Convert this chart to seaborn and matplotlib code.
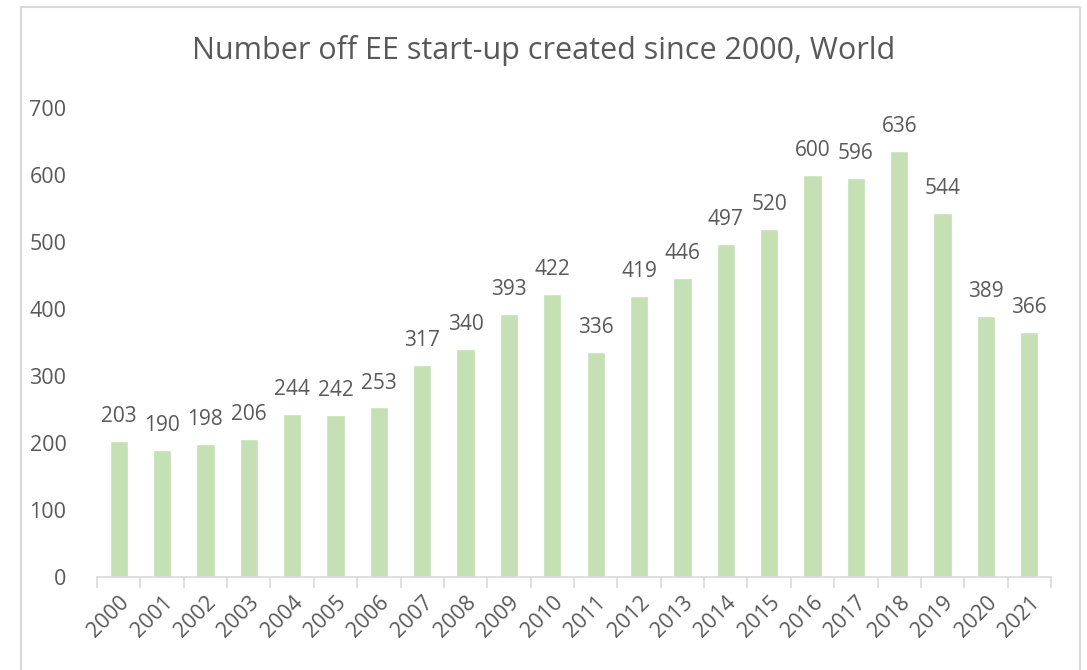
import matplotlib
matplotlib.use("Agg")
import matplotlib.pyplot as plt
import seaborn as sns
import numpy as np
import pandas as pd
from matplotlib.lines import Line2D

years = [str(y) for y in range(2000, 2022)]
values = [203, 190, 198, 206, 244, 242, 253, 317, 340, 393, 422, 336,
          419, 446, 497, 520, 600, 596, 636, 544, 389, 366]
title = "Number off EE start-up created since 2000, World"

sns.set_theme(style="white")
plt.rcParams['font.family'] = ['Open Sans', 'DejaVu Sans']
txt = "#595959"

fig = plt.figure(figsize=(10.87, 6.70), dpi=100)
ax = fig.add_axes([97/1087, 1-577/670, (1051-97)/1087, (577-108)/670])

df = pd.DataFrame({"year": years, "value": values})
sns.barplot(data=df, x="year", y="value", ax=ax, color="#C5E0B4",
            saturation=1, width=0.42)

ax.set_ylim(0, 700)
ax.set_xlim(-0.5, len(years) - 0.5)
ax.set_yticks(range(0, 701, 100))
ax.set_xlabel("")
ax.set_ylabel("")
for s in ["top", "right", "left"]:
    ax.spines[s].set_visible(False)
ax.spines["bottom"].set_color("#D9D9D9")
ax.spines["bottom"].set_linewidth(1.2)

ax.tick_params(axis="y", length=0, labelsize=15.5, labelcolor=txt, pad=22)
ax.tick_params(axis="x", which="major", length=0, labelsize=15.5, labelcolor=txt, pad=11)
ax.set_xticks(np.arange(-0.5, len(years), 1), minor=True)
ax.tick_params(axis="x", which="minor", bottom=True, length=8, width=1.2,
               color="#D9D9D9", direction="out")
for lab in ax.get_xticklabels():
    lab.set_rotation(45)
    lab.set_ha("right")
    lab.set_rotation_mode("anchor")

for i, v in enumerate(values):
    ax.annotate(str(v), (i, v), xytext=(0, 10), textcoords="offset points",
                ha="center", va="bottom", fontsize=15, color=txt)

fig.text(0.5, 1 - 51/670, title, ha="center", va="center", fontsize=22, color=txt)

# chart frame
bx0, bx1, by0 = 21/1087, 1080/1087, 1 - 7/670
fc = "#D9D9D9"
fig.add_artist(Line2D([bx0, bx0], [0, by0], transform=fig.transFigure, color=fc, lw=1.5))
fig.add_artist(Line2D([bx1, bx1], [0, by0], transform=fig.transFigure, color=fc, lw=1.5))
fig.add_artist(Line2D([bx0, bx1], [by0, by0], transform=fig.transFigure, color=fc, lw=1.5))

fig.savefig("out.png", dpi=100, facecolor="white")
